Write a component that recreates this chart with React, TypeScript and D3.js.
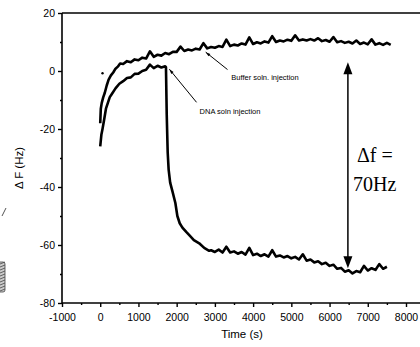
import React, { useEffect, useRef } from 'react'
import * as d3 from 'd3'

// buffer soln. injection trace (upper)
const bufferT = [0, 15, 40, 80, 120, 170, 220, 280, 340, 400, 460, 520,
  600, 700, 800, 900, 1000, 1100, 1200, 1300, 1400, 1500, 1600, 1700, 1800, 1900,
  2000, 2100, 2200, 2300, 2400, 2500, 2600, 2700, 2800, 2900, 3000, 3100, 3200, 3300,
  3400, 3500, 3600, 3700, 3800, 3900, 4000, 4100, 4200, 4300, 4400, 4500, 4600, 4700,
  4800, 4900, 5000, 5100, 5200, 5300, 5400, 5500, 5600, 5700, 5800, 5900, 6000, 6100,
  6200, 6300, 6400, 6500, 6600, 6700, 6800, 6900, 7000, 7100, 7200, 7300, 7400, 7500, 7600]
const bufferF = [-18, -13, -11, -9, -7.5, -5, -3, -1.5, -0.5, 0.8, 1.5, 2.6,
  2.4, 3.4, 3.0, 4.0, 3.7, 4.6, 4.3, 6.8, 4.9, 5.6, 5.3, 6.2, 5.8, 6.6,
  6.6, 8.4, 6.9, 7.4, 7.1, 7.7, 7.4, 9.6, 7.8, 8.3, 8.0, 8.6, 8.3, 10.8,
  8.6, 9.1, 8.8, 9.5, 9.1, 11.6, 9.3, 9.9, 9.5, 10.2, 9.8, 12.0, 10.0, 10.5,
  10.2, 10.8, 10.4, 12.3, 10.5, 10.9, 10.5, 11.0, 10.5, 11.3, 10.3, 10.7, 10.1, 11.7,
  9.9, 10.3, 9.7, 10.1, 9.5, 10.5, 9.3, 9.8, 9.2, 10.9, 9.1, 9.6, 9.0, 9.7, 9.0]

// DNA soln. injection trace (lower)
const dnaT = [0, 30, 60, 100, 150, 200, 250, 300, 400, 500, 600, 700, 800, 900, 1000,
  1100, 1200, 1300, 1400, 1500, 1600, 1700, 1720, 1740, 1765, 1790, 1830, 1890, 1966,
  2018, 2080, 2150, 2250, 2330, 2450, 2590, 2720, 2850,
  2900, 3000, 3100, 3200, 3300, 3400, 3500, 3600, 3700, 3800, 3900, 4000, 4100, 4200,
  4300, 4400, 4500, 4600, 4700, 4800, 4900, 5000, 5100, 5200, 5300, 5400, 5500, 5600,
  5700, 5800, 5900, 6000, 6100, 6200, 6300, 6400, 6500, 6600, 6700, 6800, 6900, 7000,
  7100, 7200, 7300, 7400, 7500]
const dnaF = [-26, -22, -20, -17, -13, -11, -9, -8, -6, -4.4, -3.5, -2.4, -2.2, -1.0, -0.9,
  0.0, 0.4, 2.2, 1.0, 1.8, 1.2, 1.6, 1.3, -15, -28, -34, -38.5, -41.5, -45.5,
  -50, -52.5, -54, -55.5, -56.6, -58.3, -59.4, -61, -62,
  -61.8, -62.4, -61.6, -62.6, -60.6, -62.6, -62.2, -63.0, -62.4, -63.3, -61.0, -63.5, -63.0, -63.8,
  -63.2, -64.0, -61.8, -64.0, -63.6, -64.3, -63.8, -64.6, -64.1, -65.0, -63.2, -65.4, -65.0, -66.0,
  -65.6, -66.6, -66.1, -67.2, -66.8, -68.2, -67.9, -69.2, -68.7, -69.8, -69.0, -69.4, -67.2, -68.8,
  -68.0, -68.6, -66.6, -68.2, -67.5]

const xMajor = [-1000, 0, 1000, 2000, 3000, 4000, 5000, 6000, 7000, 8000]
const xMinor = [-500, 500, 1500, 2500, 3500, 4500, 5500, 6500, 7500]
const yMajor = [-80, -60, -40, -20, 0, 20]
const yMinor = [-70, -50, -30, -10, 10]

export default function App() {
  const ref = useRef<SVGSVGElement>(null)

  useEffect(() => {
    const svg = d3.select(ref.current)
    svg.selectAll('*').remove()
    const font = '"Liberation Sans", Arial, sans-serif'
    const serif = '"Liberation Serif", "Times New Roman", serif'

    const x = d3.scaleLinear().domain([-1000, 8000]).range([62, 406])
    const y = d3.scaleLinear().domain([-80, 20]).range([303, 13])

    // frame: left, top, bottom (no right axis in the original)
    const frame = svg.append('g').attr('stroke', '#000').attr('stroke-width', 1.6)
    frame.append('line').attr('x1', x(-1000)).attr('x2', x(-1000)).attr('y1', y(20)).attr('y2', y(-80))
    frame.append('line').attr('x1', x(-1000)).attr('x2', 420).attr('y1', y(20)).attr('y2', y(20))
    frame.append('line').attr('x1', x(-1000)).attr('x2', 420).attr('y1', y(-80)).attr('y2', y(-80))

    const fmt = (d: d3.NumberValue) => String(d)

    // x axis
    svg.append('g').attr('transform', `translate(0,${y(-80)})`)
      .call(d3.axisBottom(x).tickValues(xMajor).tickSize(4).tickPadding(7).tickFormat(fmt))
      .select('.domain').remove()
    svg.append('g').attr('transform', `translate(0,${y(-80)})`)
      .call(d3.axisBottom(x).tickValues(xMinor).tickSize(2).tickFormat(() => ''))
      .select('.domain').remove()

    // y axis
    svg.append('g').attr('transform', `translate(${x(-1000)},0)`)
      .call(d3.axisLeft(y).tickValues(yMajor).tickSize(4).tickPadding(3).tickFormat(fmt))
      .select('.domain').remove()
    svg.append('g').attr('transform', `translate(${x(-1000)},0)`)
      .call(d3.axisLeft(y).tickValues(yMinor).tickSize(2).tickFormat(() => ''))
      .select('.domain').remove()

    svg.selectAll('.tick line').attr('stroke', '#000').attr('stroke-width', 1.4)
    svg.selectAll('.tick text').attr('font-family', font).attr('font-size', 10.5).attr('fill', '#000')

    // traces
    const trace = d3.line<[number, number]>().x(d => x(d[0])).y(d => y(d[1]))
    const bufferData = bufferT.map((t, i) => [t, bufferF[i]] as [number, number])
    const dnaData = dnaT.map((t, i) => [t, dnaF[i]] as [number, number])
    ;[bufferData, dnaData].forEach(data => {
      svg.append('path').attr('d', trace(data)).attr('fill', 'none')
        .attr('stroke', '#000').attr('stroke-width', 2.6).attr('stroke-linejoin', 'round')
    })
    svg.append('circle').attr('cx', x(60)).attr('cy', y(-0.8)).attr('r', 1.2).attr('fill', '#000')

    // annotation pointers
    const pointer = (t0: number, v0: number, t1: number, v1: number) => {
      const x0 = x(t0), y0 = y(v0), x1 = x(t1), y1 = y(v1)
      const a = Math.atan2(y1 - y0, x1 - x0)
      svg.append('line').attr('x1', x0).attr('y1', y0).attr('x2', x1).attr('y2', y1)
        .attr('stroke', '#000').attr('stroke-width', 1)
      const p = (r: number, da: number) => [x0 + r * Math.cos(a + da), y0 + r * Math.sin(a + da)]
      const [bx, by] = p(5, 0.3), [cx, cy] = p(5, -0.3)
      svg.append('path').attr('d', `M${x0},${y0}L${bx},${by}L${cx},${cy}Z`).attr('fill', '#000')
    }
    pointer(1810, 0.6, 2520, -10.8)
    svg.append('text').attr('x', x(2600)).attr('y', y(-14.8)).text('DNA soln injection')
      .attr('font-family', font).attr('font-size', 7.5).attr('fill', '#000')
    pointer(2760, 6.5, 3330, 0.5)
    svg.append('text').attr('x', x(3430)).attr('y', y(-3.2)).text('Buffer soln. injection')
      .attr('font-family', font).attr('font-size', 7.5).attr('fill', '#000')

    // delta f double arrow
    const ax = x(6480), top = y(3), bot = y(-68)
    svg.append('line').attr('x1', ax).attr('x2', ax).attr('y1', top + 8).attr('y2', bot - 8)
      .attr('stroke', '#000').attr('stroke-width', 1.5)
    svg.append('path').attr('d', `M${ax},${top}L${ax - 4.5},${top + 12}L${ax + 4.5},${top + 12}Z`)
    svg.append('path').attr('d', `M${ax},${bot}L${ax - 4.5},${bot - 12}L${ax + 4.5},${bot - 12}Z`)
    svg.append('text').attr('x', 357).attr('y', 162).text('Δf =').attr('font-family', serif).attr('font-size', 20)
    svg.append('text').attr('x', 353).attr('y', 191).text('70Hz').attr('font-family', serif).attr('font-size', 20)

    // axis titles
    svg.append('text').attr('transform', 'translate(23,168) rotate(-90)').attr('text-anchor', 'middle')
      .text('Δ F (Hz)').attr('font-family', font).attr('font-size', 11.5)
    svg.append('text').attr('x', 242).attr('y', 338).attr('text-anchor', 'middle')
      .text('Time (s)').attr('font-family', font).attr('font-size', 11.5)

    // scan edge of the neighbouring figure
    svg.append('line').attr('x1', 2).attr('y1', 216).attr('x2', 6).attr('y2', 208).attr('stroke', '#555')
    const hatch = svg.append('g').attr('stroke', '#444').attr('stroke-width', 0.8)
    hatch.append('rect').attr('x', -2).attr('y', 262).attr('width', 7).attr('height', 30).attr('rx', 2).attr('fill', '#ccc')
    d3.range(264, 292, 3).forEach(v => hatch.append('line').attr('x1', 0).attr('x2', 5).attr('y1', v).attr('y2', v - 2))
  }, [])

  return (
    <div style={{ position: 'absolute', left: 0, top: 0 }}>
      <svg ref={ref} width={420} height={347} style={{ display: 'block', background: '#fff' }} />
    </div>
  )
}
